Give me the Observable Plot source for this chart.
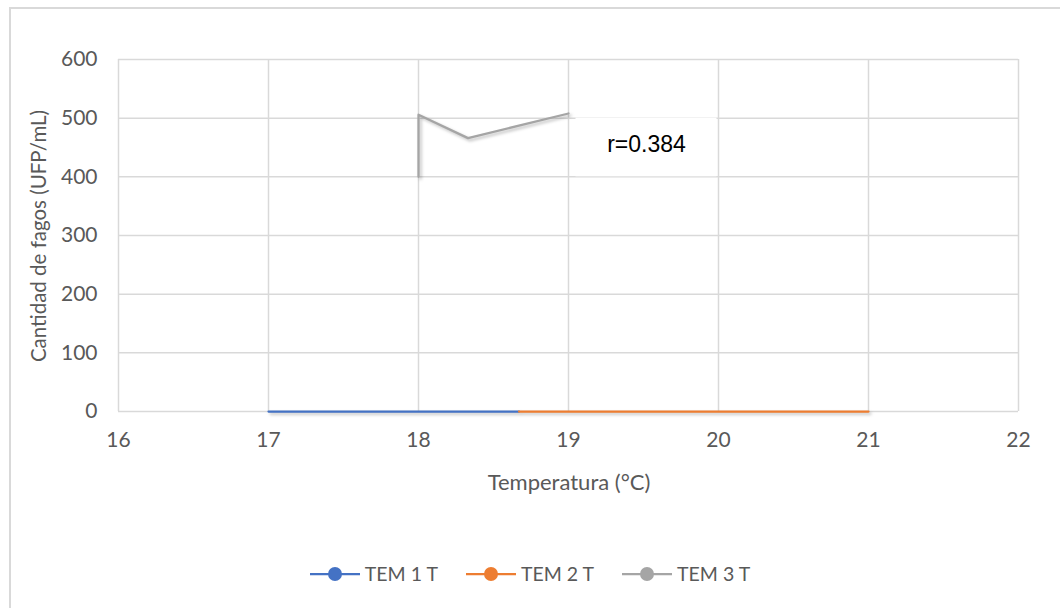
<!DOCTYPE html>
<html>
<head>
<meta charset="utf-8">
<script src="https://cdn.jsdelivr.net/npm/d3@7"></script>
<script src="https://cdn.jsdelivr.net/npm/@observablehq/plot@0.6"></script>
<style>
  html, body { margin: 0; padding: 0; background: #fff; }
  #wrap { position: relative; width: 1060px; height: 608px; overflow: hidden; font-family: Lato, "Open Sans", sans-serif; color: #595959; }
  #border { position: absolute; left: 9px; top: 7px; width: 1100px; height: 700px; border: 2px solid #d9d9d9; box-sizing: border-box; }
  #chart { position: absolute; left: 0; top: 0; }
  .ytitle { position: absolute; left: 38px; top: 236px; transform: translate(-50%, -50%) rotate(-90deg); font-size: 20.5px; white-space: nowrap; }
  .xtitle { position: absolute; left: 569px; top: 481px; transform: translate(-50%, -50%); font-size: 22px; white-space: nowrap; }
  #legend { position: absolute; left: 0; width: 1060px; top: 562px; display: flex; justify-content: center; gap: 28px; font-size: 19.5px; padding-left: 0px; box-sizing: border-box; }
  .item { display: flex; align-items: center; gap: 5px; }
  svg g[aria-label="line"] { filter: drop-shadow(2px 2px 1.5px rgba(0,0,0,0.25)); }
</style>
</head>
<body>
<div id="wrap">
  <div id="border"></div>
  <div id="chart"></div>
  <div class="ytitle">Cantidad de fagos (UFP/mL)</div>
  <div class="xtitle">Temperatura (°C)</div>
  <div id="legend"></div>
</div>
<script>
// Data
const seriesNames = ["TEM 1 T", "TEM 2 T", "TEM 3 T"];
const seriesColors = ["#4472C4", "#ED7D31", "#A5A5A5"];
const tem1X = [17, 18, 18.67];
const tem1Y = [0, 0, 0];
const tem2X = [18.67, 19, 20, 21];
const tem2Y = [0, 0, 0, 0];
const tem3X = [18, 18, 18.33, 19];
const tem3Y = [400, 506, 466, 508];
const xTicks = [16, 17, 18, 19, 20, 21, 22];
const yTicks = [0, 100, 200, 300, 400, 500, 600];
const annotation = [{x1: 19.05, x2: 19.99, y1: 400, y2: 500, tx: 19.52, ty: 455, label: "r=0.384"}];

const rows = [];
[[tem1X, tem1Y], [tem2X, tem2Y], [tem3X, tem3Y]].forEach(([xs, ys], i) => {
  xs.forEach((x, j) => rows.push({series: seriesNames[i], x, y: ys[j]}));
});

const plot = Plot.plot({
  width: 1060,
  height: 608,
  marginLeft: 118,
  marginRight: 42,
  marginTop: 59,
  marginBottom: 197,
  style: {fontFamily: "Lato, 'Open Sans', sans-serif", fontSize: "21px", color: "#595959", background: "transparent"},
  x: {domain: [16, 22], ticks: xTicks, label: null},
  y: {domain: [0, 600], ticks: yTicks, label: null},
  color: {domain: seriesNames, range: seriesColors},
  marks: [
    Plot.gridX(xTicks, {stroke: "#d9d9d9", strokeOpacity: 1, strokeWidth: 1.5}),
    Plot.gridY(yTicks, {stroke: "#d9d9d9", strokeOpacity: 1, strokeWidth: 1.5}),
    Plot.axisX({ticks: xTicks, tickSize: 0, tickPadding: 21, tickFormat: d => String(d), label: null, fill: "#595959"}),
    Plot.axisY({ticks: yTicks, tickSize: 0, tickPadding: 21, tickFormat: d => String(d), label: null, fill: "#595959"}),
    Plot.line(rows, {x: "x", y: "y", z: "series", stroke: "series", strokeWidth: 2.25}),
    Plot.rect(annotation, {x1: "x1", x2: "x2", y1: "y1", y2: "y2", fill: "white"}),
    Plot.text(annotation, {x: "tx", y: "ty", text: "label", fill: "black", fontSize: 23, fontFamily: "'Liberation Sans', Arial, sans-serif"})
  ]
});
document.getElementById("chart").appendChild(plot);

// Legend
const legend = d3.select("#legend");
seriesNames.forEach((name, i) => {
  const item = legend.append("div").attr("class", "item");
  const s = item.append("svg").attr("width", 50).attr("height", 16);
  s.append("line").attr("x1", 0).attr("x2", 50).attr("y1", 8).attr("y2", 8).attr("stroke", seriesColors[i]).attr("stroke-width", 2.25);
  s.append("circle").attr("cx", 25).attr("cy", 8).attr("r", 7).attr("fill", seriesColors[i]);
  item.append("span").text(name);
});
</script>
</body>
</html>
